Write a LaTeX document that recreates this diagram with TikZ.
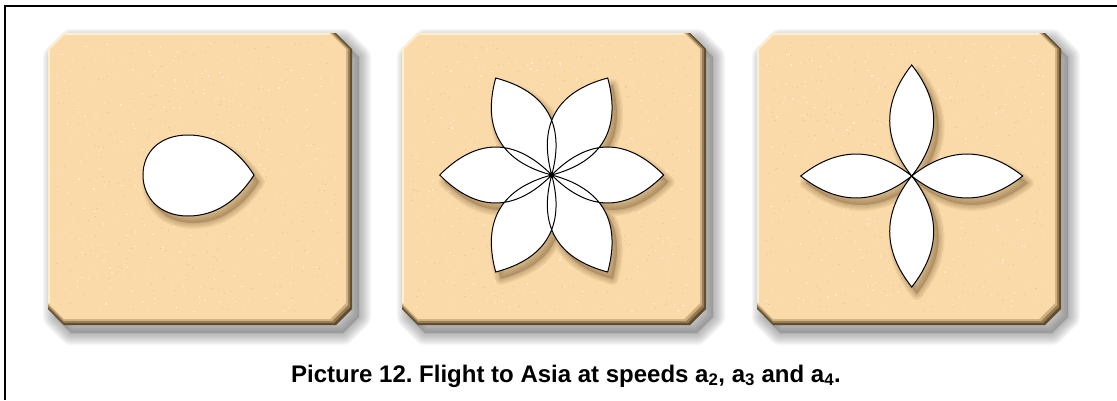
\documentclass[tikz,border=0pt]{standalone}
\usepackage{fontspec}
\setmainfont{Liberation Sans}
\definecolor{peach}{RGB}{250,218,168}
\definecolor{speck}{RGB}{255,236,205}
\definecolor{speckdark}{RGB}{232,196,145}
\definecolor{bevdark}{RGB}{95,75,45}
\definecolor{bevmid}{RGB}{150,122,80}
\definecolor{bevlight}{RGB}{205,175,128}
\definecolor{hilite}{RGB}{255,238,205}
\definecolor{tshadow}{RGB}{90,90,90}
\definecolor{fshadow}{RGB}{110,80,40}
\newcommand\chamf[5]{(#1+#5,#2) -- (#3-#5,#2) -- (#3,#2+#5) -- (#3,#4-#5) -- (#3-#5,#4) -- (#1+#5,#4) -- (#1,#4-#5) -- (#1,#2+#5) -- cycle}
\newcommand\teardrop{(254,175) .. controls (238,150) and (216,135) .. (188,135) .. controls (160,135) and (143,152) .. (143,175) .. controls (143,198) and (160,216) .. (188,216) .. controls (216,216) and (238,200) .. (254,175) -- cycle}
\begin{document}
\begin{tikzpicture}[x=1pt,y=-1pt,
  frameline/.style={draw=black,line width=2pt},
  petalfill/.style={fill=white},
  petalline/.style={draw=black,line width=1pt,line join=miter},
  captionstyle/.style={font=\bfseries\fontsize{24}{28}\selectfont\frenchspacing,anchor=base}]
\useasboundingbox (0,0) rectangle (1117,400);
\fill[white] (0,0) rectangle (1117,400);
% frame (left and top edges)
\draw[frameline] (5,400) -- (5,6) -- (1117,6);
% tile shadows
\foreach \tx in {48,402,757}{
  \foreach \k in {1,...,10}{
    \draw[tshadow,opacity=0.05,line width=2.4*\k pt,line join=round] \chamf{\tx+7}{41}{\tx+311}{333}{16};
  }
  \fill[tshadow,opacity=0.3] \chamf{\tx+7}{41}{\tx+311}{333}{16};
}
% tiles
\pgfmathsetseed{7}
\foreach \tx in {48,402,757}{
  \fill[bevdark] \chamf{\tx}{33}{\tx+304}{325}{16};
  \fill[bevmid] \chamf{\tx}{33}{\tx+302}{323}{16};
  \fill[bevlight] \chamf{\tx}{33}{\tx+300}{321}{16};
  \fill[peach] \chamf{\tx}{33}{\tx+298}{319}{16};
  \foreach \d in {1,...,350}{
    \pgfmathsetmacro\px{\tx+8+282*rnd}
    \pgfmathsetmacro\py{41+270*rnd}
    \fill[speck] (\px,\py) rectangle ++(1.2,1.2);
  }
  \foreach \d in {1,...,200}{
    \pgfmathsetmacro\px{\tx+8+282*rnd}
    \pgfmathsetmacro\py{41+270*rnd}
    \fill[speckdark] (\px,\py) rectangle ++(1,1);
  }
  \draw[hilite,line width=2pt] (\tx+1,303) -- (\tx+1,49) -- (\tx+16,34) -- (\tx+282,34);
}
% flower shadows
\begin{scope}[shift={(5,7)}]
  \foreach \k in {1,...,5}{
    \draw[fshadow,opacity=0.07,line width=2.4*\k pt,line join=round] \teardrop;
  }
  \fill[fshadow,opacity=0.3] \teardrop;
\end{scope}
\begin{scope}[shift={(556.7,182)}]
  \foreach \k in {1,...,5}{
    \draw[fshadow,opacity=0.07,line width=2.4*\k pt,line join=round]
      \foreach \a in {0,60,...,300}{ ([rotate=\a]0,0) .. controls ([rotate=\a]37,37.3) and ([rotate=\a]75,37.3) .. ([rotate=\a]112,0) .. controls ([rotate=\a]75,-37.3) and ([rotate=\a]37,-37.3) .. ([rotate=\a]0,0) -- cycle };
  }
  \fill[fshadow,opacity=0.3]
      \foreach \a in {0,60,...,300}{ ([rotate=\a]0,0) .. controls ([rotate=\a]37,37.3) and ([rotate=\a]75,37.3) .. ([rotate=\a]112,0) .. controls ([rotate=\a]75,-37.3) and ([rotate=\a]37,-37.3) .. ([rotate=\a]0,0) -- cycle };
\end{scope}
\begin{scope}[shift={(916.7,183)}]
  \foreach \k in {1,...,5}{
    \draw[fshadow,opacity=0.07,line width=2.4*\k pt,line join=round]
      \foreach \a in {0,90,180,270}{ ([rotate=\a]0,0) .. controls ([rotate=\a]37,29.3) and ([rotate=\a]74,29.3) .. ([rotate=\a]111,0) .. controls ([rotate=\a]74,-29.3) and ([rotate=\a]37,-29.3) .. ([rotate=\a]0,0) -- cycle };
  }
  \fill[fshadow,opacity=0.3]
      \foreach \a in {0,90,180,270}{ ([rotate=\a]0,0) .. controls ([rotate=\a]37,29.3) and ([rotate=\a]74,29.3) .. ([rotate=\a]111,0) .. controls ([rotate=\a]74,-29.3) and ([rotate=\a]37,-29.3) .. ([rotate=\a]0,0) -- cycle };
\end{scope}
% flowers
\path[petalfill,petalline] \teardrop;
\begin{scope}[shift={(551.7,175)}]
  \path[petalfill]
    \foreach \a in {0,60,...,300}{ ([rotate=\a]0,0) .. controls ([rotate=\a]37,37.3) and ([rotate=\a]75,37.3) .. ([rotate=\a]112,0) .. controls ([rotate=\a]75,-37.3) and ([rotate=\a]37,-37.3) .. ([rotate=\a]0,0) -- cycle };
  \path[petalline]
    \foreach \a in {0,60,...,300}{ ([rotate=\a]0,0) .. controls ([rotate=\a]37,37.3) and ([rotate=\a]75,37.3) .. ([rotate=\a]112,0) .. controls ([rotate=\a]75,-37.3) and ([rotate=\a]37,-37.3) .. ([rotate=\a]0,0) -- cycle };
\end{scope}
\begin{scope}[shift={(911.7,176)}]
  \path[petalfill]
    \foreach \a in {0,90,180,270}{ ([rotate=\a]0,0) .. controls ([rotate=\a]37,29.3) and ([rotate=\a]74,29.3) .. ([rotate=\a]111,0) .. controls ([rotate=\a]74,-29.3) and ([rotate=\a]37,-29.3) .. ([rotate=\a]0,0) -- cycle };
  \path[petalline]
    \foreach \a in {0,90,180,270}{ ([rotate=\a]0,0) .. controls ([rotate=\a]37,29.3) and ([rotate=\a]74,29.3) .. ([rotate=\a]111,0) .. controls ([rotate=\a]74,-29.3) and ([rotate=\a]37,-29.3) .. ([rotate=\a]0,0) -- cycle };
\end{scope}
% caption
\node[captionstyle] (caption) at (566,382) {Picture 12. Flight to Asia at speeds a\textsubscript{2}, a\textsubscript{3} and a\textsubscript{4}.};
\end{tikzpicture}
\end{document}
